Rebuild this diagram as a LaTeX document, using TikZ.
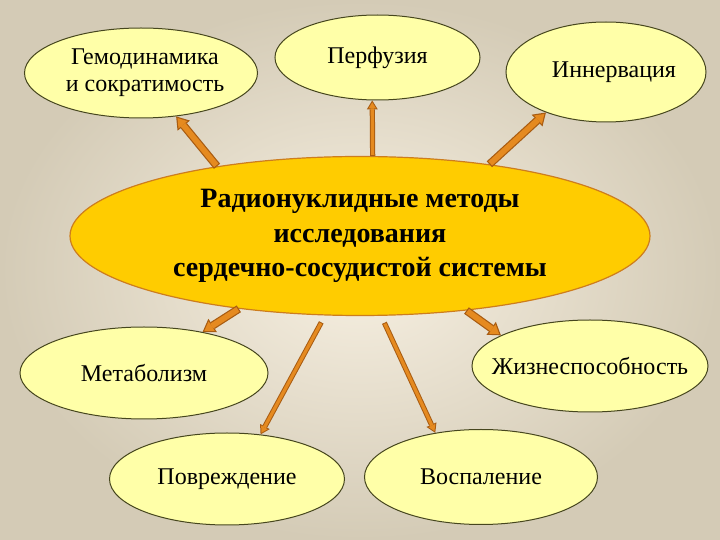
\documentclass[tikz,border=0pt]{standalone}
\usepackage{fontspec}
\setmainfont{Liberation Serif}
\usetikzlibrary{shapes.geometric,arrows.meta}
\definecolor{bgin}{RGB}{247,240,226}
\definecolor{bgout}{RGB}{212,203,182}
\definecolor{bubblefill}{RGB}{255,255,168}
\definecolor{bubbleedge}{RGB}{70,70,30}
\definecolor{corefill}{RGB}{255,204,0}
\definecolor{coreedge}{RGB}{205,125,30}
\definecolor{pipefill}{RGB}{229,138,32}
\definecolor{pipeedge}{RGB}{168,92,18}
\begin{document}
\begin{tikzpicture}[x=0.5pt,y=-0.5pt,
  bubble/.style={ellipse, draw=bubbleedge, line width=0.5pt, fill=bubblefill, inner xsep=-14pt, inner ysep=0pt, align=center, font=\fontsize{12}{13.5}\selectfont},
  core/.style={ellipse, draw=coreedge, line width=0.6pt, fill=corefill, inner sep=0pt, align=center, font=\fontsize{14}{17.3}\selectfont\bfseries},
  pipe/.style={preaction={draw=pipeedge, line width=4pt, shorten >=0pt, shorten <=0pt, -{Triangle[length=6pt,width=8pt,line width=0pt]}},
    draw=pipefill, line width=2.8pt, shorten >=1.08pt, shorten <=0.6pt, -{Triangle[length=4.32pt,width=5.76pt,line width=0pt]}},
  thinpipe/.style={preaction={draw=pipeedge, line width=2.6pt, shorten >=0pt, shorten <=0pt, -{Triangle[length=4.5pt,width=5.5pt,line width=0pt]}},
    draw=pipefill, line width=1.6pt, shorten >=0.96pt, shorten <=0.5pt, -{Triangle[length=3.04pt,width=3.72pt,line width=0pt]}}]
    \shade[inner color=bgin, outer color=bgout] (0,0) rectangle (720,540);
    \node[core, minimum width=290pt, minimum height=79.5pt] (main) at (360,236) {Радионуклидные методы\\исследования\\сердечно-сосудистой системы};
    \node[bubble, minimum width=116.5pt, minimum height=45pt] (gem) at (141,73) {\hspace*{4pt}Гемодинамика\\\hspace*{4pt}и сократимость};
    \node[bubble, minimum width=102.5pt, minimum height=42.5pt] (perf) at (377.5,57.5) {Перфузия};
    \node[bubble, minimum width=100pt, minimum height=50pt] (inn) at (606,72) {\hspace*{8pt}Иннервация};
    \node[bubble, minimum width=124pt, minimum height=46pt] (met) at (144,373) {Метаболизм};
    \node[bubble, minimum width=118pt, minimum height=46pt] (zhiz) at (590,366) {Жизнеспособность};
    \node[bubble, minimum width=117.5pt, minimum height=46pt] (pov) at (227,479) {Повреждение};
    \node[bubble, minimum width=116.5pt, minimum height=47.5pt] (vos) at (481,477) {Воспаление};
    \draw[pipe] (main.154.9) -- (gem.-51.5);
    \draw[thinpipe] (main.81.4) -- (perf.-97.4);
    \draw[pipe] (main.29.3) -- (inn.-146.6);
    \draw[pipe] (main.211.3) -- (met.35.2);
    \draw[thinpipe] ([yshift=-3.5pt]main.244) -- (pov.53.1);
    \draw[thinpipe] ([yshift=-3.5pt]main.-73.2) -- (vos.136.4);
    \draw[pipe] (main.-35.2) -- (zhiz.161.6);
\end{tikzpicture}
\end{document}
